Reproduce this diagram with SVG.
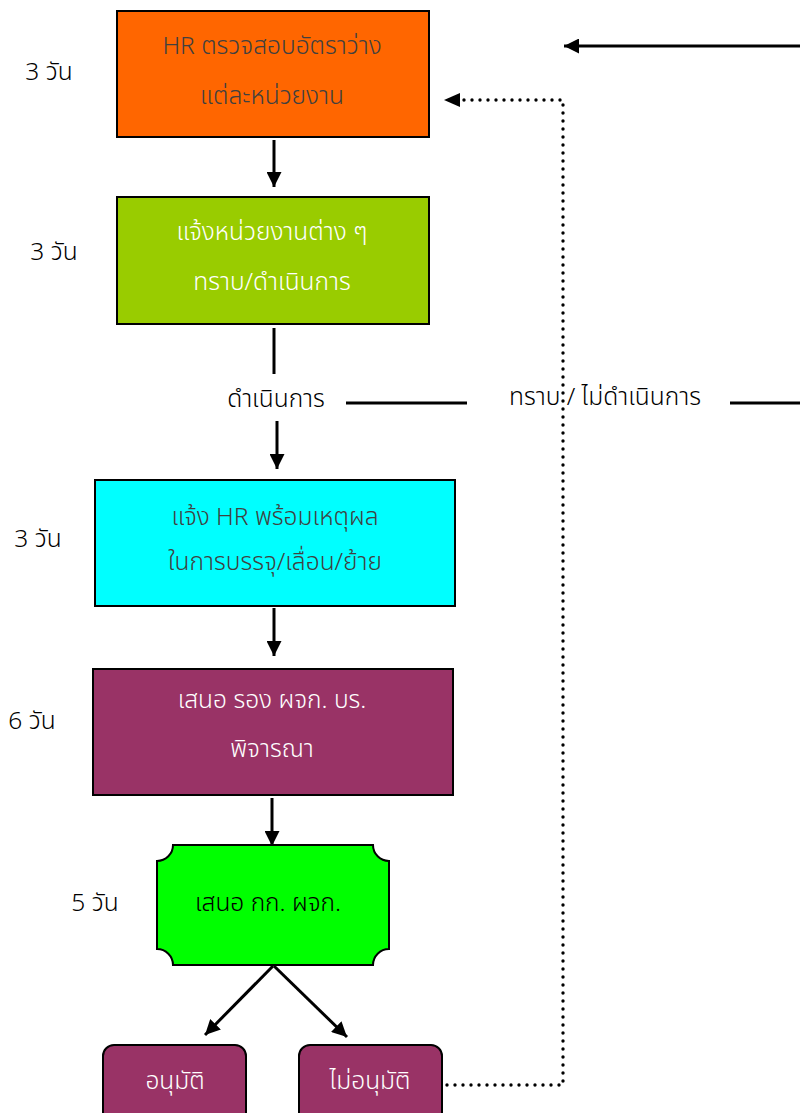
<svg xmlns="http://www.w3.org/2000/svg" width="800" height="1113" viewBox="0 0 800 1113">
<style>
text{font-family:"Noto Sans Thai","Noto Sans","DejaVu Sans",sans-serif;font-size:24.5px;font-weight:300;text-anchor:middle;dominant-baseline:central}
.box{stroke:#000;stroke-width:2}
.ln{stroke:#000;stroke-width:3;fill:none}
.dot{stroke:#000;stroke-width:3.4;fill:none;stroke-dasharray:0 8;stroke-linecap:round}
.lbl{fill:#000}
</style>
<defs>
<marker id="ah" markerWidth="5" markerHeight="5" refX="5" refY="2.5" orient="auto" markerUnits="strokeWidth"><path d="M0,0 L5,2.5 L0,5 Z" fill="#000"/></marker>
</defs>
<g id="connectors">
<line class="ln" x1="274" y1="140" x2="274" y2="187" marker-end="url(#ah)"/>
<line class="ln" x1="274" y1="328" x2="274" y2="374"/>
<line class="ln" x1="346" y1="403" x2="467" y2="403"/>
<line class="ln" x1="730" y1="403" x2="800" y2="403"/>
<line class="ln" x1="277" y1="421" x2="277" y2="469" marker-end="url(#ah)"/>
<line class="ln" x1="274" y1="608" x2="274" y2="656" marker-end="url(#ah)"/>
<line class="ln" x1="272" y1="798" x2="272" y2="846" marker-end="url(#ah)"/>
<line class="ln" x1="273" y1="966" x2="205" y2="1035" marker-end="url(#ah)"/>
<line class="ln" x1="274" y1="966" x2="347" y2="1037" marker-end="url(#ah)"/>
<line class="ln" x1="800" y1="46" x2="564" y2="46" marker-end="url(#ah)"/>
<polyline class="dot" points="447,1085 563,1085 563,100 460,100"/>
<path d="M444,100 L460,93 L460,107 Z" fill="#000"/>
</g>
<g id="n1"><rect class="box" x="117" y="11" width="312" height="126" fill="#FF6600"/>
<text x="272" y="46" fill="#404040">HR ตรวจสอบอัตราว่าง</text><text x="272" y="96" fill="#404040">แต่ละหน่วยงาน</text></g>
<g id="n2"><rect class="box" x="117" y="197" width="312" height="127" fill="#99CC00"/>
<text x="272" y="232" fill="#fff">แจ้งหน่วยงานต่าง ๆ</text><text x="272" y="282" fill="#fff">ทราบ/ดำเนินการ</text></g>
<g id="n3"><rect class="box" x="95" y="480" width="360" height="126" fill="#00FFFF"/>
<text x="275" y="517" fill="#404040">แจ้ง HR พร้อมเหตุผล</text><text x="275" y="562" fill="#404040">ในการบรรจุ/เลื่อน/ย้าย</text></g>
<g id="n4"><rect class="box" x="93" y="669" width="360" height="126" fill="#993366"/>
<text x="272" y="700" fill="#fff">เสนอ รอง ผจก. บร.</text><text x="272" y="749" fill="#fff">พิจารณา</text></g>
<g id="n5"><path class="box" fill="#00FF00" d="M173,845 H373 A16,16 0 0 0 389,861 V949 A16,16 0 0 0 373,965 H173 A16,16 0 0 0 157,949 V861 A16,16 0 0 0 173,845 Z"/>
<text x="268" y="903" fill="#000">เสนอ กก. ผจก.</text></g>
<g id="n6"><rect class="box" x="103" y="1045" width="143" height="80" rx="11" fill="#993366"/>
<text x="175" y="1081" fill="#fff">อนุมัติ</text></g>
<g id="n7"><rect class="box" x="299" y="1045" width="143" height="80" rx="11" fill="#993366"/>
<text x="370" y="1081" fill="#fff">ไม่อนุมัติ</text></g>
<g id="labels">
<text class="lbl" x="49" y="72">3 วัน</text>
<text class="lbl" x="54" y="252">3 วัน</text>
<text class="lbl" x="38" y="539">3 วัน</text>
<text class="lbl" x="32" y="721">6 วัน</text>
<text class="lbl" x="95" y="903">5 วัน</text>
<text class="lbl" x="276" y="399">ดำเนินการ</text>
<text class="lbl" x="605" y="397">ทราบ / ไม่ดำเนินการ</text>
</g>
</svg>
